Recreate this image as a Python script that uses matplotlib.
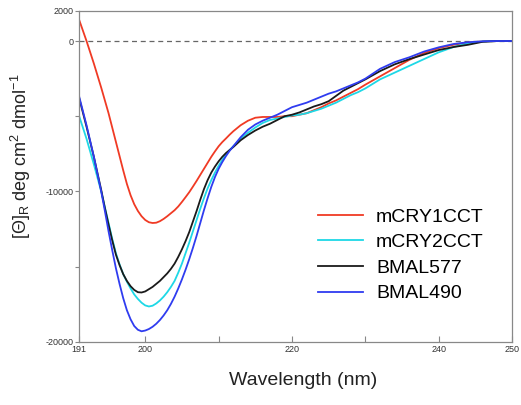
import matplotlib
matplotlib.use("Agg")
import matplotlib.pyplot as plt

plt.rcParams['font.family'] = ['Liberation Sans', 'DejaVu Sans']

# wavelength (nm), finer steps around the minimum
wl = [191, 192, 193,
      194, 194.5, 195, 195.5, 196, 196.5, 197, 197.5, 198, 198.5,
      199, 199.5, 200, 200.5, 201, 201.5, 202, 202.5, 203, 203.5,
      204, 204.5, 205, 205.5, 206, 206.5, 207, 207.5, 208, 208.5,
      209, 209.5, 210, 210.5, 211, 211.5, 212,
      213, 214, 215, 216, 217, 218, 219, 220, 221, 222,
      223, 224, 225, 226, 227, 228, 229, 230,
      232, 234, 236, 238, 240, 242, 244, 246, 248, 250]

cry1 = [1400, 0, -1500,
        -3100, -3950, -4800, -5750, -6700, -7650, -8600, -9500, -10250, -10850,
        -11300, -11650, -11900, -12050, -12100, -12080, -11980, -11830, -11650, -11450,
        -11250, -11000, -10700, -10380, -10050, -9680, -9300, -8900, -8500, -8100,
        -7700, -7340, -7000, -6720, -6480, -6230, -6000,
        -5600, -5300, -5100, -5050, -5050, -5050, -5000, -5000, -4900, -4800,
        -4600, -4400, -4150, -3950, -3700, -3450, -3200, -2900,
        -2350, -1800, -1250, -800, -470, -250, -100, -30, 0, 0]

cry2 = [-5000, -6500, -8200,
        -10000, -11050, -12100, -13150, -14100, -14850, -15500, -16000, -16450, -16850,
        -17150, -17400, -17580, -17650, -17600, -17450, -17250, -17000, -16700, -16350,
        -15950, -15400, -14800, -14100, -13400, -12650, -11900, -11150, -10450, -9800,
        -9250, -8750, -8300, -7900, -7550, -7250, -7000,
        -6500, -6100, -5750, -5450, -5250, -5150, -5050, -4950, -4900, -4800,
        -4650, -4500, -4300, -4100, -3850, -3600, -3400, -3150,
        -2550, -2100, -1650, -1200, -750, -400, -150, -30, 0, 0]

bmal577 = [-3800, -5700, -7700,
           -9900, -11100, -12200, -13250, -14200, -14900, -15500, -15950, -16300, -16550,
           -16700, -16720, -16650, -16500, -16350, -16150, -15950, -15700, -15450, -15150,
           -14800, -14350, -13850, -13300, -12700, -12000, -11300, -10550, -9850, -9250,
           -8750, -8350, -8000, -7700, -7450, -7250, -7050,
           -6600, -6250, -5950, -5700, -5500, -5250, -5000, -4900, -4750, -4550,
           -4350, -4200, -4000, -3650, -3300, -3050, -2800, -2550,
           -2000, -1550, -1200, -900, -600, -400, -250, -50, 0, 0]

bmal490 = [-3700, -5600, -7700,
           -10000, -11300, -12650, -13900, -15100, -16150, -17100, -17900, -18500, -18950,
           -19200, -19300, -19250, -19150, -19000, -18800, -18550, -18250, -17900, -17480,
           -17000, -16450, -15850, -15200, -14500, -13750, -12950, -12100, -11250, -10450,
           -9700, -9050, -8500, -8050, -7650, -7300, -7000,
           -6400, -5900, -5550, -5300, -5100, -4900, -4650, -4400, -4250, -4100,
           -3900, -3700, -3500, -3350, -3150, -2950, -2750, -2500,
           -1850, -1400, -1080, -700, -420, -200, -80, -20, 0, 0]

labels = ['mCRY1CCT', 'mCRY2CCT', 'BMAL577', 'BMAL490']
colors = ['#f03a24', '#1ed8e6', '#1a1a1a', '#2f3cf0']

fig = plt.figure(figsize=(5.21, 4.05), dpi=100)
ax = fig.add_axes([0.152, 0.156, 0.831, 0.817])

ax.axhline(0, color='#666666', lw=0.9, ls=(0, (4, 3)))
for y, lab, c in zip([cry1, cry2, bmal577, bmal490], labels, colors):
    ax.plot(wl, y, color=c, lw=1.3, label=lab)

ax.set_xlim(191, 250)
ax.set_ylim(-20000, 2000)
ax.set_xticks([191, 200, 210, 220, 230, 240, 250])
ax.set_xticklabels(['191', '200', '', '220', '', '240', '250'])
ax.set_yticks([2000, 0, -5000, -10000, -15000, -20000])
ax.set_yticklabels(['2000', '0', '', '-10000', '', '-20000'])
ax.tick_params(axis='x', direction='in', length=4, width=0.8, color='#888888',
               labelsize=6.5, labelcolor='#333333', pad=2)
ax.tick_params(axis='y', direction='out', length=3, width=0.8, color='#888888',
               labelsize=6.5, labelcolor='#333333', pad=1)
for s in ax.spines.values():
    s.set_color('#888888')
    s.set_linewidth(0.9)

ax.set_xlabel('Wavelength (nm)', fontsize=14, color='#222222')
ax.xaxis.set_label_coords(0.518, -0.09)
ax.set_ylabel('[Θ]$_\\mathregular{R}$ deg cm$^\\mathregular{2}$ dmol$^\\mathregular{-1}$',
              fontsize=13, color='#222222')
ax.yaxis.set_label_coords(-0.106, 0.562)

ax.legend(loc='center left', bbox_to_anchor=(0.552, 0.262), frameon=False,
          fontsize=14, handlelength=2.3, handletextpad=0.67, labelspacing=0.41,
          borderpad=0, borderaxespad=0)

fig.savefig('out.png', dpi=100)
